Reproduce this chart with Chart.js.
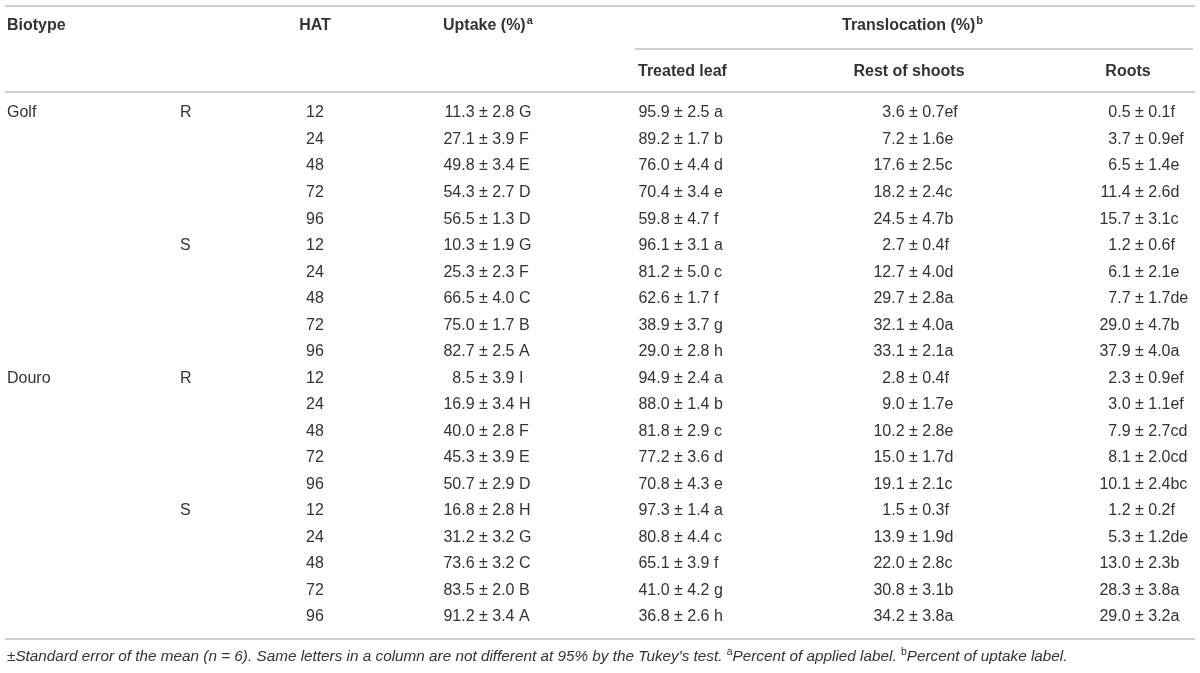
<!DOCTYPE html>
<html>
<head>
<meta charset="utf-8">
<script src="https://cdn.jsdelivr.net/npm/chart.js@4.4.0/dist/chart.umd.min.js"></script>
<style>
  html, body { margin: 0; padding: 0; background: #fff; }
  #wrap { width: 1200px; height: 673px; }
</style>
</head>
<body>
<div id="wrap"><canvas id="tableChart" width="1200" height="673"></canvas></div>
<script>
// 表のデータ（行 = バイオタイプ × R/S × HAT）
var biotypes = ['Golf', 'Douro'];
var resistance = ['R', 'S'];
var hat = [12, 24, 48, 72, 96];

var uptakeMean  = [11.3, 27.1, 49.8, 54.3, 56.5, 10.3, 25.3, 66.5, 75.0, 82.7, 8.5, 16.9, 40.0, 45.3, 50.7, 16.8, 31.2, 73.6, 83.5, 91.2];
var uptakeSE    = [2.8, 3.9, 3.4, 2.7, 1.3, 1.9, 2.3, 4.0, 1.7, 2.5, 3.9, 3.4, 2.8, 3.9, 2.9, 2.8, 3.2, 3.2, 2.0, 3.4];
var uptakeGroup = ['G', 'F', 'E', 'D', 'D', 'G', 'F', 'C', 'B', 'A', 'I', 'H', 'F', 'E', 'D', 'H', 'G', 'C', 'B', 'A'];

var leafMean  = [95.9, 89.2, 76.0, 70.4, 59.8, 96.1, 81.2, 62.6, 38.9, 29.0, 94.9, 88.0, 81.8, 77.2, 70.8, 97.3, 80.8, 65.1, 41.0, 36.8];
var leafSE    = [2.5, 1.7, 4.4, 3.4, 4.7, 3.1, 5.0, 1.7, 3.7, 2.8, 2.4, 1.4, 2.9, 3.6, 4.3, 1.4, 4.4, 3.9, 4.2, 2.6];
var leafGroup = ['a', 'b', 'd', 'e', 'f', 'a', 'c', 'f', 'g', 'h', 'a', 'b', 'c', 'd', 'e', 'a', 'c', 'f', 'g', 'h'];

var shootsMean  = [3.6, 7.2, 17.6, 18.2, 24.5, 2.7, 12.7, 29.7, 32.1, 33.1, 2.8, 9.0, 10.2, 15.0, 19.1, 1.5, 13.9, 22.0, 30.8, 34.2];
var shootsSE    = [0.7, 1.6, 2.5, 2.4, 4.7, 0.4, 4.0, 2.8, 4.0, 2.1, 0.4, 1.7, 2.8, 1.7, 2.1, 0.3, 1.9, 2.8, 3.1, 3.8];
var shootsGroup = ['ef', 'e', 'c', 'c', 'b', 'f', 'd', 'a', 'a', 'a', 'f', 'e', 'e', 'd', 'c', 'f', 'd', 'c', 'b', 'a'];

var rootsMean  = [0.5, 3.7, 6.5, 11.4, 15.7, 1.2, 6.1, 7.7, 29.0, 37.9, 2.3, 3.0, 7.9, 8.1, 10.1, 1.2, 5.3, 13.0, 28.3, 29.0];
var rootsSE    = [0.1, 0.9, 1.4, 2.6, 3.1, 0.6, 2.1, 1.7, 4.7, 4.0, 0.9, 1.1, 2.7, 2.0, 2.4, 0.2, 1.2, 2.3, 3.8, 3.2];
var rootsGroup = ['f', 'ef', 'e', 'd', 'c', 'f', 'e', 'de', 'b', 'a', 'ef', 'ef', 'cd', 'cd', 'bc', 'f', 'de', 'b', 'a', 'a'];

var footnote = ['±Standard error of the mean (n = 6). Same letters in a column are not different at 95% by the Tukey\'s test. ',
                'Percent of applied label. ', 'Percent of uptake label.'];

// レイアウト（ピクセル）
var W = 1200, H = 673;
var firstRowPx = 113, rowStep = 26.53;
var colX = { biotype: 7, rs: 180, hat: 315, uptake: 479, leaf: 674, shoots: 909, roots: 1135 };
var FONT = '"Liberation Sans", Arial, Helvetica, sans-serif';
var TEXT = '#333333', RULE = '#cfcfcf';

function toRow(px) { return (px - firstRowPx) / rowStep; }

function valueDataset(label, x, mean, se, group, gap) {
    return {
        label: label,
        data: mean.map(function (m, i) { return { x: x, y: i }; }),
        mean: mean, se: se, group: group, gap: gap,
        pointRadius: 0, showLine: false
    };
}

var rowLabels = {
    label: 'rows',
    data: hat.concat(hat, hat, hat).map(function (h, i) { return { x: colX.hat, y: i }; }),
    pointRadius: 0, showLine: false
};

var tablePlugin = {
    id: 'tableText',
    afterDatasetsDraw: function (chart) {
        var ctx = chart.ctx, xs = chart.scales.x, ys = chart.scales.y;
        var py = function (px) { return ys.getPixelForValue(toRow(px)); };
        ctx.save();
        ctx.textBaseline = 'middle';

        // 罫線
        ctx.strokeStyle = RULE;
        ctx.lineWidth = 2;
        [[5, 1195, 6], [635, 1193, 49], [5, 1195, 92], [5, 1195, 639]].forEach(function (r) {
            ctx.beginPath();
            ctx.moveTo(xs.getPixelForValue(r[0]), py(r[2]));
            ctx.lineTo(xs.getPixelForValue(r[1]), py(r[2]));
            ctx.stroke();
        });

        ctx.fillStyle = TEXT;
        function text(s, x, y, align, font) {
            ctx.font = font;
            ctx.textAlign = align;
            ctx.fillText(s, x, y);
            return ctx.measureText(s).width;
        }
        function sup(s, x, y, font) {
            ctx.font = font;
            ctx.textAlign = 'left';
            ctx.fillText(s, x, y - 5);
            return ctx.measureText(s).width;
        }

        // 見出し
        var bold = 'bold 16px ' + FONT, boldSup = 'bold 11px ' + FONT;
        var h1 = py(26), h2 = py(72);
        text('Biotype', colX.biotype, h1, 'left', bold);
        text('HAT', colX.hat, h1, 'center', bold);
        var w = text('Uptake (%)', 443, h1, 'left', bold);
        sup('a', 443 + w + 1, h1, boldSup);
        w = text('Translocation (%)', 842, h1, 'left', bold);
        sup('b', 842 + w + 1, h1, boldSup);
        text('Treated leaf', 638, h2, 'left', bold);
        text('Rest of shoots', colX.shoots, h2, 'center', bold);
        text('Roots', 1128, h2, 'center', bold);

        // 行ラベル
        var reg = '16px ' + FONT;
        var perBio = resistance.length * hat.length;
        biotypes.forEach(function (b, bi) {
            text(b, xs.getPixelForValue(colX.biotype), ys.getPixelForValue(bi * perBio), 'left', reg);
            resistance.forEach(function (r, ri) {
                text(r, xs.getPixelForValue(colX.rs), ys.getPixelForValue(bi * perBio + ri * hat.length), 'left', reg);
            });
        });

        // セル
        chart.data.datasets.forEach(function (ds, di) {
            var meta = chart.getDatasetMeta(di);
            meta.data.forEach(function (pt, i) {
                if (!ds.mean) {
                    text(String(hat[i % hat.length]), pt.x, pt.y, 'center', reg);
                    return;
                }
                text(ds.mean[i].toFixed(1) + ' ', pt.x, pt.y, 'right', reg);
                text('± ' + ds.se[i].toFixed(1) + ds.gap + ds.group[i], pt.x, pt.y, 'left', reg);
            });
        });

        // 脚注
        var it = 'italic 15.3px ' + FONT, itSup = '10.5px ' + FONT;
        var fy = py(657), fx = 7;
        fx += text(footnote[0], fx, fy, 'left', it);
        fx += sup('a', fx, fy, itSup);
        fx += text(footnote[1], fx, fy, 'left', it);
        fx += sup('b', fx, fy, itSup);
        text(footnote[2], fx, fy, 'left', it);

        ctx.restore();
    }
};

var tableChart = new Chart(document.getElementById('tableChart').getContext('2d'), {
    type: 'scatter',
    data: {
        datasets: [
            rowLabels,
            valueDataset('Uptake (%)', colX.uptake, uptakeMean, uptakeSE, uptakeGroup, ' '),
            valueDataset('Treated leaf', colX.leaf, leafMean, leafSE, leafGroup, ' '),
            valueDataset('Rest of shoots', colX.shoots, shootsMean, shootsSE, shootsGroup, ''),
            valueDataset('Roots', colX.roots, rootsMean, rootsSE, rootsGroup, '')
        ]
    },
    options: {
        responsive: false,
        animation: false,
        layout: { padding: 0 },
        scales: {
            x: { type: 'linear', min: 0, max: W, display: false },
            y: { type: 'linear', min: toRow(0), max: toRow(H), reverse: true, display: false }
        },
        plugins: {
            legend: { display: false },
            tooltip: { enabled: false }
        }
    },
    plugins: [tablePlugin]
});
</script>
</body>
</html>
